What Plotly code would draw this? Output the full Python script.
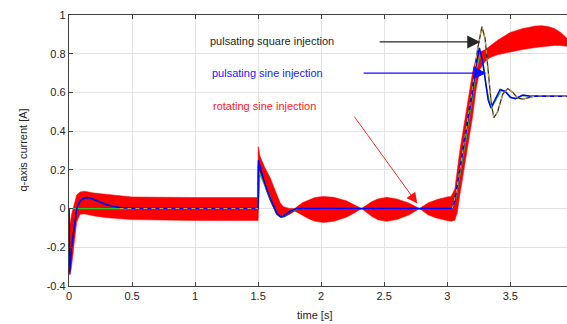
import plotly.graph_objects as go

# ---- data (time in s, q-axis current in A) ----
red_t = [0, 0.01, 0.02, 0.034, 0.05, 0.061, 0.087, 0.12, 0.2, 0.3, 0.5, 1.0, 1.4999,
         1.5, 1.505, 1.515, 1.555, 1.595, 1.62, 1.65, 1.675, 1.70, 1.75, 1.79,
         1.85, 1.9, 1.95, 2.02, 2.1, 2.2, 2.27, 2.32,
         2.4, 2.45, 2.52, 2.6, 2.7, 2.78,
         2.85, 2.92, 3.0, 3.03, 3.06, 3.08, 3.1, 3.15, 3.2, 3.23, 3.26, 3.3, 3.34,
         3.4, 3.5, 3.6, 3.7, 3.75, 3.8, 3.85, 3.9, 3.95]
red_upper = [0.0, -0.08, -0.03, 0.01, 0.05, 0.07, 0.085, 0.09, 0.08, 0.072, 0.06, 0.057, 0.057,
             0.32, 0.31, 0.27, 0.21, 0.16, 0.115, 0.07, 0.03, 0.01, 0.0, 0.0,
             0.03, 0.045, 0.057, 0.063, 0.058, 0.04, 0.018, 0.0,
             0.035, 0.05, 0.058, 0.05, 0.028, 0.0,
             0.03, 0.047, 0.06, 0.063, 0.1, 0.2, 0.3, 0.5, 0.7, 0.78, 0.81, 0.82, 0.84,
             0.87, 0.91, 0.93, 0.943, 0.945, 0.94, 0.93, 0.91, 0.88]
red_lower = [-0.34, -0.34, -0.3, -0.21, -0.12, -0.07, -0.03, -0.027, -0.038, -0.047, -0.057, -0.062, -0.062,
             0.0, 0.02, 0.18, 0.12, 0.07, 0.02, -0.02, -0.04, -0.042, -0.03, -0.012,
             -0.035, -0.052, -0.065, -0.072, -0.066, -0.045, -0.02, 0.0,
             -0.04, -0.058, -0.066, -0.057, -0.032, 0.0,
             -0.033, -0.05, -0.062, -0.065, -0.06, -0.02, 0.07, 0.27, 0.47, 0.62, 0.72, 0.76, 0.78,
             0.795, 0.81, 0.822, 0.832, 0.836, 0.84, 0.843, 0.842, 0.838]

blue_t = [0, 0.005, 0.02, 0.035, 0.05, 0.062, 0.08, 0.1, 0.13, 0.15, 0.18, 0.22, 0.3, 0.4, 0.5, 0.6,
          1.4999, 1.502, 1.52, 1.543, 1.569, 1.595, 1.622, 1.648, 1.675, 1.70, 1.754, 1.807, 1.85,
          3.04, 3.06, 3.08, 3.10, 3.15, 3.2, 3.23, 3.255, 3.28, 3.3, 3.325, 3.347, 3.38, 3.42,
          3.46, 3.5, 3.54, 3.6, 3.65, 3.7, 3.95]
blue_q = [0, -0.33, -0.2, -0.12, -0.04, 0.0, 0.03, 0.047, 0.056, 0.057, 0.052, 0.04, 0.02, 0.006, 0.001, 0.0,
          0.0, 0.25, 0.2, 0.15, 0.1, 0.055, 0.015, -0.022, -0.04, -0.038, -0.014, 0.0, 0.0,
          0.0, 0.04, 0.12, 0.2, 0.39, 0.6, 0.75, 0.83, 0.76, 0.66, 0.56, 0.52, 0.56, 0.615,
          0.605, 0.575, 0.568, 0.586, 0.582, 0.58, 0.58]

black_t = [0, 0.005, 0.02, 0.035, 0.05, 0.062, 0.08, 0.1, 0.13, 0.15, 0.18, 0.22, 0.3, 0.4, 0.5, 0.6,
           1.4999, 1.502, 1.52, 1.543, 1.569, 1.595, 1.622, 1.648, 1.68, 1.71, 1.76, 1.82, 1.87,
           3.04, 3.07, 3.10, 3.15, 3.2, 3.24, 3.275, 3.3, 3.33, 3.35, 3.37, 3.4, 3.44,
           3.48, 3.52, 3.56, 3.6, 3.65, 3.7, 3.95]
black_q = [0, -0.32, -0.2, -0.12, -0.045, 0.0, 0.028, 0.045, 0.054, 0.055, 0.05, 0.038, 0.018, 0.005, 0.001, 0.0,
           0.0, 0.22, 0.19, 0.14, 0.09, 0.045, 0.005, -0.03, -0.045, -0.042, -0.018, -0.002, 0.0,
           0.0, 0.08, 0.2, 0.4, 0.62, 0.82, 0.94, 0.88, 0.68, 0.54, 0.47, 0.5, 0.59,
           0.62, 0.6, 0.57, 0.565, 0.575, 0.582, 0.58]

# dashed overlay (visible on the zero segment before 1.5 s and on the square-injection step)
dash_t = [0.4, 1.4999, None, 3.04, 3.07, 3.10, 3.15, 3.2, 3.24, 3.275, 3.3, 3.33, 3.35, 3.37, 3.4, 3.44,
          3.48, 3.52, 3.56, 3.6, 3.65, 3.7, 3.95]
dash_q = [0.0, 0.0, None, 0.0, 0.08, 0.2, 0.4, 0.62, 0.82, 0.94, 0.88, 0.68, 0.54, 0.47, 0.5, 0.59,
          0.62, 0.6, 0.57, 0.565, 0.575, 0.582, 0.58]

green_t = [0, 1.4999, 1.5, 1.505, 1.52, 1.545, 1.57, 1.6, 1.625, 1.65, 1.68, 1.71, 1.76, 1.82, 1.87,
           3.04, 3.07, 3.10, 3.15, 3.2, 3.235, 3.262, 3.29, 3.31, 3.335, 3.355, 3.39, 3.43,
           3.47, 3.51, 3.55, 3.6, 3.65, 3.7, 3.95]
green_q = [0, 0.0, 0.18, 0.19, 0.17, 0.13, 0.09, 0.045, 0.01, -0.022, -0.04, -0.037, -0.013, 0.0, 0.0,
           0.0, 0.06, 0.17, 0.37, 0.58, 0.73, 0.8, 0.73, 0.63, 0.55, 0.525, 0.565, 0.612,
           0.6, 0.573, 0.569, 0.585, 0.582, 0.58, 0.58]

x_ticks = [0, 0.5, 1, 1.5, 2, 2.5, 3, 3.5]
x_tick_labels = ["0", "0.5", "1", "1.5", "2", "2.5", "3", "3.5"]
y_ticks = [-0.4, -0.2, 0, 0.2, 0.4, 0.6, 0.8, 1]
y_tick_labels = ["-0.4", "-0.2", "0", "0.2", "0.4", "0.6", "0.8", "1"]

labels = ["pulsating square injection", "pulsating sine injection", "rotating sine injection"]
label_x = [1.607, 1.572, 1.553]
label_y = [0.864, 0.698, 0.531]
label_colors = ["#262626", "#2020ff", "#ff2020"]
arrow_tail_x = [2.452, 2.325, 2.254]
arrow_tail_y = [0.861, 0.70, 0.483]
arrow_tip_x = [3.262, 3.31, 2.762]
arrow_tip_y = [0.861, 0.70, 0.026]
arrow_colors = ["#262626", "#1010ff", "#ff1010"]
arrow_widths = [1.3, 1.3, 0.9]
arrow_sizes = [2.0, 2.0, 2.4]

FONT = "Liberation Sans, Arial, sans-serif"

fig = go.Figure()
# red band (rotating sine injection, envelope of the fast oscillation)
fig.add_trace(go.Scatter(x=red_t, y=red_lower, mode="lines", line=dict(color="#ff0000", width=0.5),
                         showlegend=False, hoverinfo="skip"))
fig.add_trace(go.Scatter(x=red_t, y=red_upper, mode="lines", line=dict(color="#ff0000", width=0.5),
                         fill="tonexty", fillcolor="#ff0000", showlegend=False, hoverinfo="skip"))
# pulsating square injection
fig.add_trace(go.Scatter(x=black_t, y=black_q, mode="lines", line=dict(color="#3a2f18", width=1.3),
                         showlegend=False))
# green response
fig.add_trace(go.Scatter(x=green_t, y=green_q, mode="lines", line=dict(color="#22cc22", width=1.3),
                         showlegend=False))
# pulsating sine injection
fig.add_trace(go.Scatter(x=blue_t, y=blue_q, mode="lines", line=dict(color="#0000ff", width=1.5),
                         showlegend=False))
# dashed overlay
fig.add_trace(go.Scatter(x=dash_t, y=dash_q, mode="lines", connectgaps=False,
                         line=dict(color="#d0a848", width=1.0, dash="4px,4px"), showlegend=False))

annotations = []
for i in range(3):
    annotations.append(dict(x=label_x[i], y=label_y[i], xref="x", yref="y", text=labels[i],
                            showarrow=False, font=dict(family=FONT, size=11, color=label_colors[i]),
                            xanchor="center", yanchor="middle"))
    annotations.append(dict(x=arrow_tip_x[i], y=arrow_tip_y[i], ax=arrow_tail_x[i], ay=arrow_tail_y[i],
                            xref="x", yref="y", axref="x", ayref="y", text="", showarrow=True,
                            arrowhead=2, arrowsize=arrow_sizes[i], arrowwidth=arrow_widths[i],
                            arrowcolor=arrow_colors[i], standoff=0, startstandoff=0))
annotations.append(dict(x=(22 - 69) / 498, y=0.5, xref="paper", yref="paper", text="q-axis current [A]",
                        textangle=-90, showarrow=False, font=dict(family=FONT, size=11, color="#262626"),
                        xanchor="center", yanchor="middle"))
annotations.append(dict(x=(314 - 69) / 498, y=(286 - 315) / 271, xref="paper", yref="paper", text="time [s]",
                        showarrow=False, font=dict(family=FONT, size=11, color="#262626"),
                        xanchor="center", yanchor="middle"))

fig.update_layout(
    width=567, height=324,
    margin=dict(l=69, r=0, t=15, b=38),
    paper_bgcolor="white", plot_bgcolor="white",
    font=dict(family=FONT, size=11, color="#262626"),
    annotations=annotations,
    showlegend=False,
)
fig.update_xaxes(range=[0, 3.95], tickvals=x_ticks, ticktext=x_tick_labels,
                 showgrid=True, gridcolor="#e3e3e3", gridwidth=1,
                 showline=True, linecolor="#404040", linewidth=1.3, mirror="ticks",
                 ticks="inside", ticklen=4, tickcolor="#404040", zeroline=False,
                 tickfont=dict(family=FONT, size=11, color="#262626"))
fig.update_yaxes(range=[-0.4, 1], tickvals=y_ticks, ticktext=y_tick_labels,
                 showgrid=True, gridcolor="#e3e3e3", gridwidth=1,
                 showline=True, linecolor="#404040", linewidth=1.3, mirror=False,
                 ticks="inside", ticklen=4, tickcolor="#404040", zeroline=False,
                 tickfont=dict(family=FONT, size=11, color="#262626"))

fig.write_html("out.html")
